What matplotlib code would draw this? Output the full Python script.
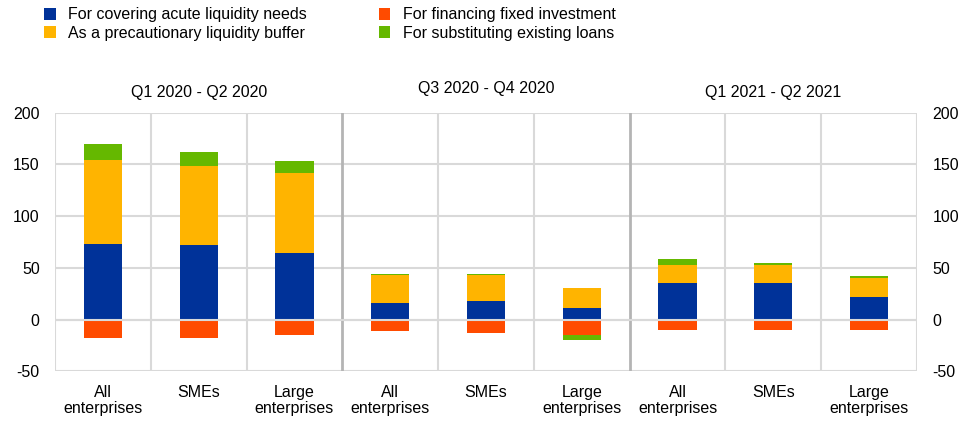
import matplotlib
matplotlib.use("Agg")
import matplotlib.pyplot as plt
from matplotlib.patches import Patch
import matplotlib.transforms as mtransforms
import numpy as np

plt.rcParams['font.family'] = ['Liberation Sans', 'DejaVu Sans']

categories = ["All\nenterprises", "SMEs", "Large\nenterprises"] * 3
groups = ["Q1 2020 - Q2 2020", "Q3 2020 - Q4 2020", "Q1 2021 - Q2 2021"]
series_names = ["For covering acute liquidity needs", "As a precautionary liquidity buffer",
                "For financing fixed investment", "For substituting existing loans"]
acute = [73, 72, 64, 16, 18, 11.5, 35, 35, 22]
buffer = [81, 76, 78, 27, 25, 19, 17.5, 18, 18]
fixed_inv = [-18, -18, -15, -11, -13, -14.5, -10, -10, -10]
substitute = [16, 14, 11, 1.5, 1.5, -5, 6, 1.3, 1.7]
yticks = [-50, 0, 50, 100, 150, 200]

colors = ["#003299", "#FFB400", "#FF4B00", "#65B800"]

fig = plt.figure(figsize=(9.70, 4.21), dpi=100)
ax = fig.add_axes([55/970, 1-371.3/421, (917-55)/970, (371.3-112.7)/421])

x = np.arange(len(categories))
w = 0.4
acute_a = np.array(acute, float)
buf_a = np.array(buffer, float)
fix_a = np.array(fixed_inv, float)
sub_a = np.array(substitute, float)

ax.bar(x, acute_a, w, color=colors[0], zorder=2)
ax.bar(x, buf_a, w, bottom=acute_a, color=colors[1], zorder=2)
ax.bar(x, fix_a, w, color=colors[2], zorder=2)
pos_base = acute_a + buf_a
sub_bottom = np.where(sub_a >= 0, pos_base, fix_a)
ax.bar(x, sub_a, w, bottom=sub_bottom, color=colors[3], zorder=2)

ax.set_xlim(-0.5, len(categories) - 0.5)
ax.set_ylim(-50, 200)
ax.set_yticks(yticks)
ax.set_yticklabels([str(t) for t in yticks])
ax.tick_params(axis='y', length=0, labelsize=11.5, pad=11, right=True, labelright=True)
ax.tick_params(axis='x', length=0, labelsize=11.5, pad=10)
ax.set_xticks(x)
ax.set_xticklabels(categories, linespacing=1.1)

for s in ax.spines.values():
    s.set_visible(False)

for t in yticks:
    ax.axhline(t, color="#d9d9d9", lw=1.5, zorder=1)
ax.axhline(0, color="#d9d9d9", lw=1.5, zorder=3)
for k in range(len(categories) + 1):
    xv = k - 0.5
    if k in (3, 6):
        ax.axvline(xv, color="#b4b4b4", lw=2, zorder=1)
    else:
        ax.axvline(xv, color="#d9d9d9", lw=1.5, zorder=1)

trans = mtransforms.blended_transform_factory(ax.transData, ax.transAxes)
title_y = [1.077, 1.094, 1.077]
for i, g in enumerate(groups):
    ax.text(3 * i + 1, title_y[i], g, transform=trans, ha='center', va='center', fontsize=11.5)

handles = [Patch(facecolor=c, edgecolor='none') for c in colors]
fig.legend(handles, series_names, loc='upper left', bbox_to_anchor=(38/970, 1 - 1/421),
           ncol=2, frameon=False, fontsize=11.5, handlelength=0.7, handleheight=0.75,
           handletextpad=0.8, columnspacing=4.48, labelspacing=0.2, borderaxespad=0)

fig.savefig("out.png", dpi=100)
